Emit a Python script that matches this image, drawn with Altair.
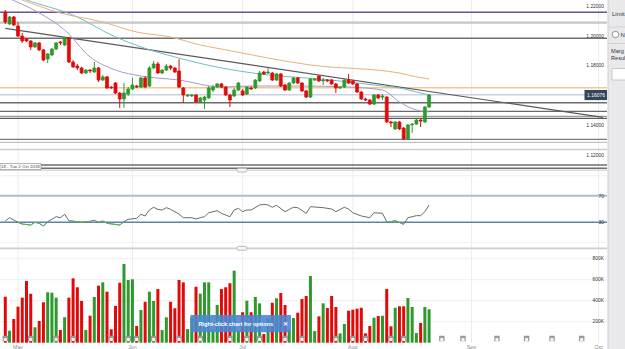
import altair as alt
import numpy as np
import pandas as pd

# ---------------------------------------------------------------------------
# EUR/USD daily candles (Sun-Fri sessions), 27 Apr - 22 Aug 2018
# ---------------------------------------------------------------------------
opens = [1.2164, 1.2084, 1.2131, 1.2071, 1.2003, 1.1983, 1.1970, 1.1930, 1.1957, 1.1910,
         1.1849, 1.1876, 1.1916, 1.1963, 1.1943, 1.1990, 1.1829, 1.1802, 1.1789, 1.1755,
         1.1775, 1.1762, 1.1789, 1.1708, 1.1729, 1.1661, 1.1688, 1.1621, 1.1581, 1.1614,
         1.1648, 1.1668, 1.1661, 1.1722, 1.1668, 1.1789, 1.1816, 1.1755, 1.1775, 1.1802,
         1.1789, 1.1769, 1.1655, 1.1601, 1.1601, 1.1608, 1.1561, 1.1574, 1.1588, 1.1641,
         1.1661, 1.1682, 1.1661, 1.1608, 1.1601, 1.1641, 1.1635, 1.1614, 1.1655, 1.1655,
         1.1702, 1.1762, 1.1755, 1.1755, 1.1708, 1.1749, 1.1675, 1.1641, 1.1688, 1.1722,
         1.1688, 1.1635, 1.1594, 1.1708, 1.1735, 1.1702, 1.1708, 1.1708, 1.1682, 1.1655,
         1.1661, 1.1708, 1.1702, 1.1682, 1.1628, 1.1581, 1.1574, 1.1547, 1.1608, 1.1594,
         1.1594, 1.1427, 1.1380, 1.1427, 1.1386, 1.1313, 1.1407, 1.1413, 1.1440, 1.1427,
         1.1527]
highs = [1.2178, 1.2138, 1.2138, 1.2097, 1.2024, 1.1990, 1.1977, 1.1963, 1.1963, 1.1916,
         1.1889, 1.1923, 1.1963, 1.1970, 1.1997, 1.1997, 1.1842, 1.1816, 1.1796, 1.1782,
         1.1782, 1.1829, 1.1796, 1.1742, 1.1735, 1.1668, 1.1695, 1.1628, 1.1688, 1.1661,
         1.1722, 1.1675, 1.1729, 1.1735, 1.1802, 1.1836, 1.1829, 1.1782, 1.1816, 1.1809,
         1.1796, 1.1849, 1.1661, 1.1614, 1.1614, 1.1614, 1.1594, 1.1601, 1.1668, 1.1675,
         1.1688, 1.1688, 1.1668, 1.1614, 1.1655, 1.1695, 1.1648, 1.1668, 1.1668, 1.1715,
         1.1769, 1.1769, 1.1789, 1.1762, 1.1755, 1.1755, 1.1682, 1.1695, 1.1729, 1.1729,
         1.1695, 1.1641, 1.1722, 1.1722, 1.1742, 1.1722, 1.1715, 1.1715, 1.1688, 1.1668,
         1.1715, 1.1749, 1.1708, 1.1688, 1.1635, 1.1588, 1.1581, 1.1614, 1.1614, 1.1614,
         1.1601, 1.1433, 1.1433, 1.1433, 1.1393, 1.1413, 1.1420, 1.1447, 1.1447, 1.1534,
         1.1614]
lows = [1.2084, 1.2077, 1.2071, 1.1997, 1.1957, 1.1963, 1.1910, 1.1923, 1.1903, 1.1836,
        1.1822, 1.1869, 1.1910, 1.1943, 1.1936, 1.1822, 1.1789, 1.1775, 1.1749, 1.1749,
        1.1755, 1.1755, 1.1695, 1.1702, 1.1648, 1.1648, 1.1614, 1.1521, 1.1521, 1.1601,
        1.1641, 1.1655, 1.1655, 1.1655, 1.1661, 1.1782, 1.1749, 1.1749, 1.1769, 1.1775,
        1.1755, 1.1655, 1.1554, 1.1594, 1.1594, 1.1554, 1.1554, 1.1514, 1.1581, 1.1628,
        1.1655, 1.1655, 1.1601, 1.1527, 1.1594, 1.1635, 1.1601, 1.1608, 1.1641, 1.1648,
        1.1695, 1.1742, 1.1749, 1.1702, 1.1702, 1.1661, 1.1635, 1.1635, 1.1682, 1.1682,
        1.1628, 1.1588, 1.1588, 1.1702, 1.1695, 1.1675, 1.1695, 1.1675, 1.1621, 1.1648,
        1.1655, 1.1682, 1.1675, 1.1621, 1.1574, 1.1568, 1.1541, 1.1541, 1.1581, 1.1574,
        1.1420, 1.1393, 1.1373, 1.1373, 1.1306, 1.1306, 1.1353, 1.1407, 1.1393, 1.1420,
        1.1521]
closes = [1.2097, 1.2131, 1.2077, 1.2003, 1.1970, 1.1970, 1.1930, 1.1957, 1.1910, 1.1842,
          1.1883, 1.1916, 1.1957, 1.1957, 1.1990, 1.1829, 1.1796, 1.1789, 1.1755, 1.1775,
          1.1769, 1.1789, 1.1708, 1.1729, 1.1655, 1.1655, 1.1621, 1.1581, 1.1621, 1.1648,
          1.1675, 1.1661, 1.1722, 1.1661, 1.1789, 1.1816, 1.1755, 1.1775, 1.1802, 1.1789,
          1.1762, 1.1661, 1.1608, 1.1608, 1.1608, 1.1561, 1.1588, 1.1594, 1.1655, 1.1661,
          1.1682, 1.1661, 1.1608, 1.1574, 1.1641, 1.1688, 1.1608, 1.1661, 1.1648, 1.1708,
          1.1755, 1.1749, 1.1762, 1.1708, 1.1749, 1.1668, 1.1641, 1.1688, 1.1722, 1.1688,
          1.1635, 1.1594, 1.1715, 1.1715, 1.1702, 1.1708, 1.1702, 1.1682, 1.1655, 1.1661,
          1.1708, 1.1688, 1.1682, 1.1628, 1.1581, 1.1574, 1.1547, 1.1608, 1.1588, 1.1601,
          1.1427, 1.1420, 1.1427, 1.1380, 1.1313, 1.1407, 1.1413, 1.1440, 1.1433, 1.1527,
          1.16076]
volumes_k = [438, 114, 226, 343, 429, 588, 467, 147, 207, 385,
             480, 476, 429, 121, 242, 429, 613, 528, 397, 121,
             257, 435, 543, 575, 486, 128, 350, 571, 750, 597,
             604, 159, 311, 390, 486, 397, 511, 121, 242, 390,
             328, 597, 575, 130, 242, 533, 467, 575, 575, 130,
             359, 511, 528, 566, 686, 110, 290, 400, 290, 435,
             375, 83, 232, 381, 423, 473, 359, 121, 235, 286,
             416, 445, 635, 111, 251, 375, 330, 445, 340, 89,
             178, 305, 314, 324, 333, 89, 159, 238, 254, 257,
             511, 156, 333, 347, 347, 426, 340, 92, 188, 340,
             318]

# Moving averages, read at selected sessions
ma_fast_idx = [0, 8, 14, 20, 26, 32, 41, 51, 58, 70, 81, 89, 93, 97, 100]
ma_fast_val = [1.2265, 1.2158, 1.2044, 1.1863, 1.1775, 1.1735, 1.1708, 1.1661,
               1.1668, 1.1668, 1.1661, 1.1641, 1.1561, 1.1507, 1.1494]
ma_mid_idx = [0, 5, 16, 26, 32, 40, 51, 60, 77, 89, 93, 97, 100]
ma_mid_val = [1.2300, 1.2245, 1.2144, 1.1997, 1.1930, 1.1863, 1.1789, 1.1749,
              1.1708, 1.1668, 1.1655, 1.1628, 1.1608]
ma_slow_idx = [0, 4, 13, 23, 31, 39, 46, 51, 72, 93, 97, 100]
ma_slow_val = [1.2290, 1.2245, 1.2158, 1.2097, 1.2030, 1.1997, 1.1943, 1.1916,
               1.1809, 1.1755, 1.1729, 1.1715]

# Falling trend line
trend_idx = [0, 141]
trend_val = [1.2055, 1.1458]

# Horizontal support / resistance levels
level_prices = [1.2163, 1.2093, 1.1988, 1.1657, 1.1610, 1.1556, 1.1498,
                1.1465, 1.1451, 1.1310, 1.1290, 1.1242, 1.1138, 1.1116]

# RSI(14), read at selected sessions
rsi_idx = [0, 1, 3, 4, 6, 7, 8, 9, 10, 12, 13, 14, 15, 17, 18, 20, 21, 22, 23, 24,
           27, 28, 29, 31, 32, 33, 34, 35, 36, 37, 38, 39, 41, 42, 44, 45, 46, 47, 48, 50,
           51, 53, 54, 55, 56, 57, 58, 60, 61, 62, 63, 64, 66, 67, 68, 69, 71, 72, 73, 75,
           77, 78, 80, 81, 82, 84, 86, 87, 89, 90, 91, 92, 94, 95, 97, 98, 99, 100]
rsi_val = [32, 36.9, 30, 27.4, 25.9, 30, 28.5, 24.4, 30.9, 38.4, 36.9, 42, 32.4, 30.9, 30,
           31.5, 33, 30, 32, 28.5, 25.9, 30.9, 34.5, 36, 42, 39.5, 48.5, 52.6, 49.5, 48.5,
           52, 49.5, 42.5, 36.9, 36.9, 35, 36.9, 38.4, 44.4, 47.4, 43.5, 38.4, 48.5, 51, 46,
           48.5, 48.5, 56, 57, 56, 52.6, 55.6, 46, 49.5, 52.6, 52, 43.5, 53.5, 53, 52, 50, 46,
           52.6, 50, 44.4, 39.5, 36.9, 44.4, 43.5, 31, 31, 32.4, 27, 36.9, 40, 40, 46, 56]

price_ticks = [1.12, 1.14, 1.16, 1.18, 1.20, 1.22]
rsi_ticks = [30, 70]
vol_ticks_k = [200, 400, 600, 800]
month_idx = [3, 30, 56, 82, 110, 140]
month_names = ["May", "Jun", "Jul", "Aug", "Sep", "Oct"]
event_idx = [0, 6, 12, 16, 25, 29, 31, 35, 41, 46, 53, 57, 60, 66, 70, 78, 82, 85,
             91, 94, 103, 108, 116, 123, 129, 136]

# ---------------------------------------------------------------------------
# styling
# ---------------------------------------------------------------------------
W, H = 625, 349
RIGHT = 607
FONT = "Liberation Sans"
RED, GREEN = "#e10a0a", "#2e9a2e"
level_colors = ["#6a4fa0", "#c6c6c6", "#707070", "#f4c88f", "#c9d2de", "#6a6a6a", "#6a6a6a",
                "#9c9c9c", "#5a5a5a", "#7c7c7c", "#c2c2c2", "#cdcdcd", "#6e6e6e", "#6e6e6e"]
level_widths = [1.6, 2.2, 1.4, 1.5, 1.5, 1.4, 1.4, 1.2, 1.4, 1.4, 1.2, 1.6, 1.4, 1.4]

# one shared time axis, three stacked value scales (price / RSI / volume)
XS = alt.Scale(domain=[-0.07, 145.04], nice=False, zero=False)
PS = alt.Scale(domain=[0.990419, 1.22449], nice=False, zero=False)
RS = alt.Scale(domain=[-160.53, 364.29], nice=False, zero=False)
VS = alt.Scale(domain=[-60, 3263.8], nice=False, zero=False)


def X(field="idx"):
    return alt.X(f"{field}:Q", scale=XS, axis=None)


def Yp(field):
    return alt.Y(f"{field}:Q", scale=PS, axis=None)


one = pd.DataFrame({"k": [0]})


def ui_rect(x, x2, y, y2, **kw):
    return alt.Chart(one).mark_rect(**kw).encode(
        x=alt.value(x), x2=alt.value(x2), y=alt.value(y), y2=alt.value(y2))


def ui_hline(y, x, x2, color, w):
    return alt.Chart(one).mark_rule(color=color, strokeWidth=w).encode(
        x=alt.value(x), x2=alt.value(x2), y=alt.value(y))


def ui_text(t, x, y, size, color="#333333", align="left", weight="normal"):
    return alt.Chart(one).mark_text(
        text=t, align=align, baseline="middle", fontSize=size, color=color,
        font=FONT, fontWeight=weight).encode(x=alt.value(x), y=alt.value(y))


# ---------------------------------------------------------------------------
# tables
# ---------------------------------------------------------------------------
candles = pd.DataFrame({"idx": range(len(closes)), "open": opens, "high": highs,
                        "low": lows, "close": closes, "vol": volumes_k})
candles["dir"] = np.where(candles["close"] >= candles["open"], "up", "down")
dir_scale = alt.Scale(domain=["up", "down"], range=[GREEN, RED])

ma = pd.concat([
    pd.DataFrame({"idx": ma_fast_idx, "val": ma_fast_val, "s": "fast"}),
    pd.DataFrame({"idx": ma_mid_idx, "val": ma_mid_val, "s": "mid"}),
    pd.DataFrame({"idx": ma_slow_idx, "val": ma_slow_val, "s": "slow"}),
])
trend = pd.DataFrame({"idx": trend_idx, "val": trend_val})
levels = pd.DataFrame({"price": level_prices, "col": level_colors, "w": level_widths})

rsi = pd.DataFrame({"idx": rsi_idx, "rsi": rsi_val})
oversold = rsi["rsi"] <= 32.5
rsi["run"] = (oversold != oversold.shift()).cumsum()
rsi_low = rsi[oversold]

months = pd.DataFrame({"idx": month_idx, "m": month_names})
events = pd.DataFrame({"idx": event_idx})
pticks = pd.DataFrame({"p": price_ticks, "t": [f"{v:.5f}" for v in price_ticks]})
rticks = pd.DataFrame({"r": rsi_ticks, "t": [str(v) for v in rsi_ticks]})
vticks = pd.DataFrame({"v": vol_ticks_k, "t": [f"{v}K" for v in vol_ticks_k]})
last = pd.DataFrame({"p": [closes[-1]], "t": [f"{closes[-1]:.5f}"]})

# ---------------------------------------------------------------------------
# layers
# ---------------------------------------------------------------------------
month_grid = alt.Chart(months).mark_rule(color="#ececec", strokeWidth=1).encode(
    x=X(), y=alt.value(0), y2=alt.value(343))

vol_grid = alt.Chart(vticks).mark_rule(color="#efefef", strokeWidth=1).encode(
    x=alt.value(0), x2=alt.value(RIGHT), y=alt.Y("v:Q", scale=VS, axis=None))

rsi_bounds = alt.Chart(pd.DataFrame({"r": [0, 100]})).mark_rule(
    color="#f0f0f0", strokeWidth=1).encode(
    x=alt.value(0), x2=alt.value(RIGHT), y=alt.Y("r:Q", scale=RS, axis=None))

sep_top = ui_hline(170.3, 0, RIGHT, "#d9d9d9", 1.6)
sep_bottom = ui_hline(248.3, 0, RIGHT, "#cfcfcf", 1.8)

level_lines = alt.Chart(levels).mark_rule().encode(
    x=alt.value(0), x2=alt.value(RIGHT), y=Yp("price"),
    color=alt.Color("col:N", scale=None, legend=None),
    strokeWidth=alt.StrokeWidth("w:Q", scale=None, legend=None))

trend_line = alt.Chart(trend).mark_line(color="#5a5a5a", strokeWidth=1.2, clip=True).encode(
    x=X(), y=Yp("val"))

ma_lines = alt.Chart(ma).mark_line(strokeWidth=1, interpolate="monotone", clip=True).encode(
    x=X(), y=Yp("val"), detail="s:N",
    color=alt.Color("s:N", legend=None,
                    scale=alt.Scale(domain=["fast", "mid", "slow"],
                                    range=["#a49bcb", "#6fbfc2", "#e6b27c"])))

wicks = alt.Chart(candles).mark_rule(strokeWidth=1).encode(
    x=X(), y=Yp("low"), y2="high:Q",
    color=alt.Color("dir:N", scale=dir_scale, legend=None))

bodies = alt.Chart(candles).mark_bar(size=3, strokeWidth=0.7).encode(
    x=X(), y=Yp("open"), y2="close:Q",
    color=alt.Color("dir:N", scale=dir_scale, legend=None),
    stroke=alt.Stroke("dir:N", scale=dir_scale, legend=None))

rsi_refs = alt.Chart(pd.DataFrame({"r": rsi_ticks, "c": ["#5b84ad", "#a9bdd4"],
                                   "w": [1.4, 2.0]})).mark_rule().encode(
    x=alt.value(0), x2=alt.value(RIGHT), y=alt.Y("r:Q", scale=RS, axis=None),
    color=alt.Color("c:N", scale=None, legend=None),
    strokeWidth=alt.StrokeWidth("w:Q", scale=None, legend=None))

rsi_line = alt.Chart(rsi).mark_line(color="#6b6b6b", strokeWidth=1).encode(
    x=X(), y=alt.Y("rsi:Q", scale=RS, axis=None))

rsi_green = alt.Chart(rsi_low).mark_line(color="#5cb85c", strokeWidth=1).encode(
    x=X(), y=alt.Y("rsi:Q", scale=RS, axis=None), detail="run:N")

vol_bars = alt.Chart(candles).mark_bar(size=3).encode(
    x=X(), y=alt.Y("vol:Q", scale=VS, axis=None), y2=alt.datum(0),
    color=alt.Color("dir:N", scale=dir_scale, legend=None))

event_outer = alt.Chart(events).mark_square(size=30, filled=True, color="#9a9a9a",
                                            opacity=1).encode(x=X(), y=alt.value(338.5))
event_inner = alt.Chart(events).mark_square(size=9, filled=True, color="#f4f4f4",
                                            opacity=1).encode(x=X(), y=alt.value(339.5))

price_labels = alt.Chart(pticks).mark_text(
    align="right", baseline="middle", fontSize=4.9, color="#333333", font=FONT).encode(
    x=alt.value(604), y=Yp("p"), text="t:N")

rsi_labels = alt.Chart(rticks).mark_text(
    align="right", baseline="middle", fontSize=5, color="#333333", font=FONT).encode(
    x=alt.value(604), y=alt.Y("r:Q", scale=RS, axis=None), text="t:N")

vol_labels = alt.Chart(vticks).mark_text(
    align="right", baseline="middle", fontSize=4.9, color="#333333", font=FONT).encode(
    x=alt.value(604), y=alt.Y("v:Q", scale=VS, axis=None), text="t:N")

month_labels = alt.Chart(months).mark_text(
    align="center", baseline="middle", fontSize=5.3, color="#8a8a8a", font=FONT).encode(
    x=X(), y=alt.value(346.5), text="m:N")

last_box = alt.Chart(last).mark_rect(color="#34465a").transform_calculate(
    top="datum.p + 0.0034", bot="datum.p - 0.0034").encode(
    x=alt.value(584.5), x2=alt.value(RIGHT), y=Yp("top"), y2="bot:Q")
last_text = alt.Chart(last).mark_text(
    align="center", baseline="middle", fontSize=5, color="white", font=FONT).encode(
    x=alt.value(596), y=Yp("p"), text="t:N")

date_box = ui_rect(0, 41, 163.6, 169.6, fill="white", stroke="#8a8a8a", strokeWidth=0.7)
date_text = ui_text("18 - Tue 2 Oct 2018", 1, 166.7, 4.4, color="#444444")

handle1 = ui_rect(237, 247, 168.3, 172, fill="#f6f6f6", stroke="#a8a8a8",
                  strokeWidth=0.8, cornerRadius=1.5)
handle2 = ui_rect(237, 247, 246.4, 250.2, fill="#f6f6f6", stroke="#a8a8a8",
                  strokeWidth=0.8, cornerRadius=1.5)

tip_box = ui_rect(190.5, 291, 315, 332.3, fill="#4a87d0", opacity=0.9)
tip_text = ui_text("Right-click chart for options", 198.5, 323.6, 5.6, color="white",
                   weight="bold")
tip_close = ui_text("\u2715", 285.5, 323.6, 5.5, color="white", align="center", weight="bold")

side_bg = ui_rect(608, W, 0, H, fill="#e9e9ec")
side_edge = alt.Chart(one).mark_rule(color="#cfcfd4", strokeWidth=1).encode(
    x=alt.value(608), y=alt.value(0), y2=alt.value(H))
side_sep1 = ui_hline(27, 609, W, "#d2d2d6", 1)
side_sep2 = ui_hline(43.5, 609, W, "#d2d2d6", 1)
side_limit = ui_text("Limit", 612, 14, 6)
side_radio = alt.Chart(one).mark_point(size=42, filled=True, fill="white", stroke="#7a7a7a",
                                       strokeWidth=0.8, opacity=1).encode(
    x=alt.value(615.5), y=alt.value(34.5))
side_n = ui_text("N", 620.5, 34.5, 6)
side_marg = ui_text("Marg", 611, 50.5, 5.6)
side_res = ui_text("Resul", 611, 58, 5.6)
side_input = ui_rect(612, W + 2, 68.5, 80, fill="white", stroke="#bdbdc2", strokeWidth=0.8)

layers = [
    month_grid, vol_grid, rsi_bounds, sep_top, sep_bottom,
    level_lines, trend_line, ma_lines, wicks, bodies,
    rsi_refs, rsi_line, rsi_green,
    vol_bars, event_outer, event_inner,
    price_labels, rsi_labels, vol_labels, month_labels,
    last_box, last_text,
    date_box, date_text, handle1, handle2,
    tip_box, tip_text, tip_close,
    side_bg, side_edge, side_sep1, side_sep2, side_limit, side_radio, side_n,
    side_marg, side_res, side_input,
]

chart = (
    alt.layer(*layers)
    .resolve_scale(y="independent", color="independent", stroke="independent",
                   strokeWidth="independent")
    .properties(width=W, height=H, padding=0, background="white",
                autosize=alt.AutoSizeParams(type="none"))
    .configure_view(stroke=None)
)

chart.save("out.html", embed_options={"renderer": "svg", "actions": False})
